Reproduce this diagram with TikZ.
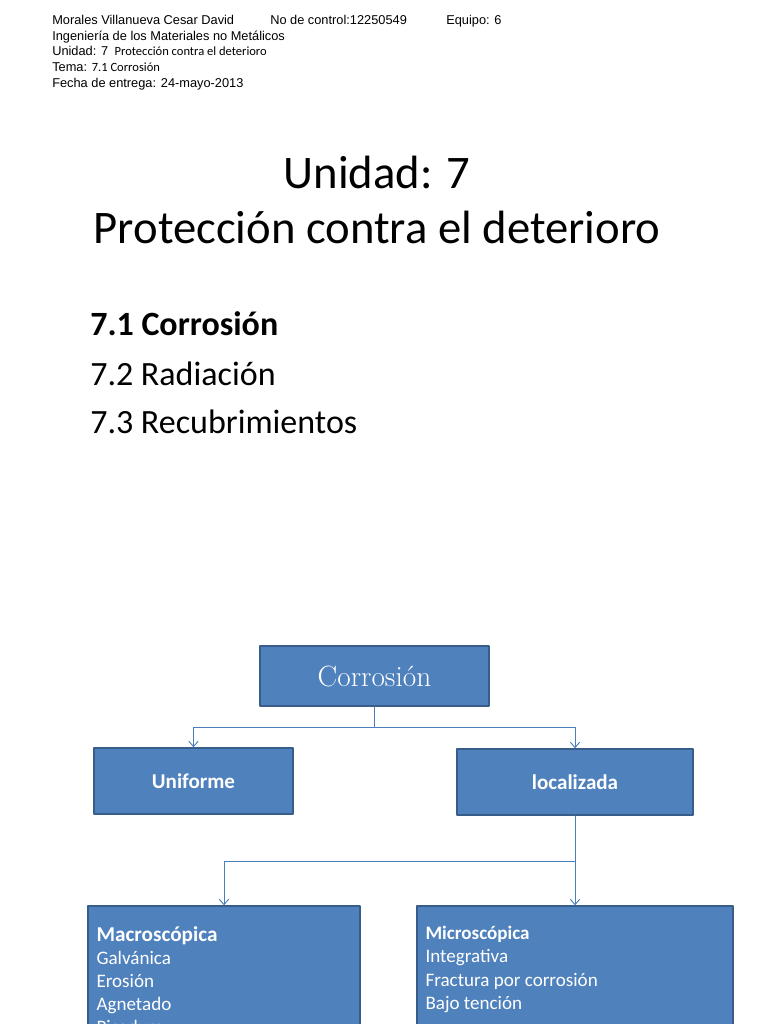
\documentclass[tikz,border=0pt]{standalone}
\usepackage{fontspec}
\setmainfont{Latin Modern Roman}
\newfontfamily\arialfont{Liberation Sans}
\newfontfamily\calibrifont{Carlito}
\usetikzlibrary{arrows.meta}
\definecolor{boxfill}{HTML}{4F81BD}
\definecolor{boxline}{HTML}{385D8A}
\definecolor{connline}{HTML}{4A7EBB}
\tikzset{
  box/.style={draw=boxline, fill=boxfill, line width=1.1pt, text=white, inner sep=0pt},
  conn/.style={draw=connline, line width=0.7pt},
  connarrow/.style={conn, -{Straight Barb[length=4pt,width=7pt]}},
  head/.style={anchor=base west, inner sep=0pt, font=\arialfont\fontsize{9.6}{11}\selectfont},
  topic/.style={anchor=base west, inner sep=0pt, font=\calibrifont\fontsize{25.5}{29}\selectfont},
  boxtext/.style={anchor=north west, align=left, inner sep=0pt, text=white,
    font=\calibrifont\fontsize{14.3}{17.3}\selectfont}
}
\begin{document}
\begin{tikzpicture}[x=0.75pt, y=-0.75pt, line join=round, line cap=round]
\useasboundingbox (0,0) rectangle (768,1024);
\clip (0,0) rectangle (768,1024);
\fill[white] (0,0) rectangle (768,1024);
% header
\node[head] (name) at (52,25) {Morales Villanueva Cesar David};
\node[head] (control) at (270,25) {No de control:12250549};
\node[head] (team) at (446,25) {Equipo: 6};
\node[head] (course) at (52,41) {Ingeniería de los Materiales no Metálicos};
\node[head] (unit) at (52,56) {Unidad: 7\hspace{0.5em}{\calibrifont\fontsize{9.4}{10}\selectfont Protección contra el deterioro}};
\node[head] (theme) at (52,72) {Tema: {\calibrifont\fontsize{9.4}{10}\selectfont 7.1 Corrosión}};
\node[head] (date) at (52,88) {Fecha de entrega: 24-mayo-2013};
% title
\node[inner sep=0pt, font=\calibrifont\fontsize{35}{41}\selectfont, align=center] (title) at (377,200)
  {Unidad: 7\\Protección contra el deterioro};
\node[topic, font=\calibrifont\bfseries\fontsize{25.5}{29}\selectfont] (t1) at (90,335) {7.1 Corrosión};
\node[topic] (t2) at (90,385) {7.2 Radiación};
\node[topic] (t3) at (90,433) {7.3 Recubrimientos};
% diagram
\node[box, minimum width=229*0.75pt, minimum height=60*0.75pt, font=\fontsize{22}{24}\selectfont] (corr) at (374.5,676) {Corrosión};
\node[box, minimum width=199*0.75pt, minimum height=66*0.75pt, font=\calibrifont\bfseries\fontsize{15.8}{18}\selectfont] (unif) at (193.5,781) {Uniforme};
\node[box, minimum width=236*0.75pt, minimum height=66*0.75pt, font=\calibrifont\bfseries\fontsize{15.8}{18}\selectfont] (local) at (575,782) {localizada};
\node[box, minimum width=272*0.75pt, minimum height=160*0.75pt] (macro) at (224,986) {};
\node[box, minimum width=316*0.75pt, minimum height=160*0.75pt] (micro) at (575,986) {};
\node[boxtext] (macrotxt) at ([shift={(9,21)}]macro.north west)
  {{\bfseries\fontsize{15.9}{17.3}\selectfont Macroscópica}\\Galvánica\\Erosión\\Agnetado\\Picadura};
\node[boxtext] (microtxt) at ([shift={(9,21)}]micro.north west)
  {{\bfseries Microscópica}\\Integrativa\\Fractura por corrosión\\Bajo tención};
\coordinate (split1) at (374.5,727);
\coordinate (split2) at (575,861);
\draw[conn] (corr.south) -- (split1);
\draw[connarrow] (split1) -| (unif.north);
\draw[connarrow] (split1) -| (local.north);
\draw[conn] (local.south) -- (split2);
\draw[connarrow] (split2) -| (macro.north);
\draw[connarrow] (split2) -- (micro.north);
\end{tikzpicture}
\end{document}
